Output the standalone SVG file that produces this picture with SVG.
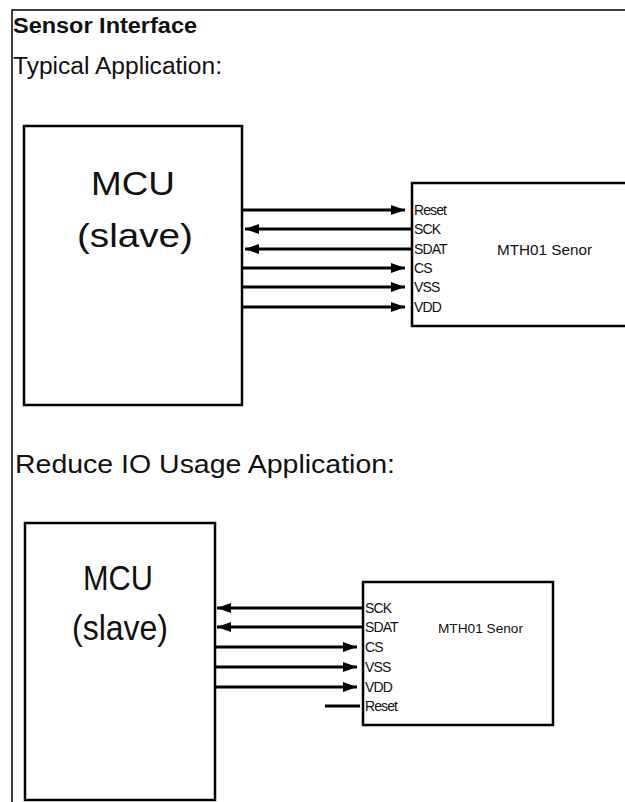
<svg xmlns="http://www.w3.org/2000/svg" width="625" height="802" viewBox="0 0 625 802">
<style>
  .box { fill: #fff; stroke: #000; stroke-width: 2.5; }
  .wire { stroke: #000; stroke-width: 3; fill: none; }
  .frame { stroke: #000; stroke-width: 1.5; fill: none; }
  .t { font-family: "Liberation Sans", Arial, sans-serif; fill: #111; }
  .pin { font-family: "Liberation Sans", Arial, sans-serif; font-size: 14px; letter-spacing: -0.9px; fill: #111; }
  .mcu { font-family: "Liberation Sans", Arial, sans-serif; text-anchor: middle; fill: #111; }
</style>
<defs>
  <marker id="ah" markerUnits="userSpaceOnUse" markerWidth="15" markerHeight="11" refX="14" refY="5" orient="auto">
    <path d="M0,0 L14,5 L0,10 z" fill="#000"/>
  </marker>
</defs>
<rect x="0" y="0" width="625" height="802" fill="#fff"/>
<path class="frame" d="M12,802 L12,10 L625,10"/>

<text class="t" x="13" y="33" font-size="22" font-weight="bold" textLength="184" lengthAdjust="spacingAndGlyphs">Sensor Interface</text>
<text class="t" x="13" y="74" font-size="23.5" textLength="209" lengthAdjust="spacingAndGlyphs">Typical Application:</text>
<text class="t" x="15" y="473" font-size="25" textLength="380" lengthAdjust="spacingAndGlyphs">Reduce IO Usage Application:</text>

<g id="mcu1">
  <rect class="box" x="24" y="126" width="218" height="279"/>
  <text class="mcu" x="133" y="195" font-size="33" textLength="84" lengthAdjust="spacingAndGlyphs">MCU</text>
  <text class="mcu" x="135" y="247" font-size="33" textLength="116" lengthAdjust="spacingAndGlyphs">(slave)</text>
</g>

<g id="sensor1">
  <rect class="box" x="412" y="183" width="240" height="143"/>
  <text class="pin" x="414" y="215">Reset</text>
  <text class="pin" x="414" y="234">SCK</text>
  <text class="pin" x="414" y="254">SDAT</text>
  <text class="pin" x="414" y="273">CS</text>
  <text class="pin" x="414" y="292">VSS</text>
  <text class="pin" x="414" y="312">VDD</text>
  <text class="t" x="497" y="255" font-size="14" textLength="95" lengthAdjust="spacingAndGlyphs">MTH01 Senor</text>
</g>

<g id="mcu2">
  <rect class="box" x="25" y="523" width="190" height="277"/>
  <text class="mcu" x="118" y="590" font-size="35" textLength="70" lengthAdjust="spacingAndGlyphs">MCU</text>
  <text class="mcu" x="120" y="640" font-size="35" textLength="96" lengthAdjust="spacingAndGlyphs">(slave)</text>
</g>

<g id="sensor2">
  <rect class="box" x="363" y="582" width="190" height="143"/>
  <text class="pin" x="365" y="613">SCK</text>
  <text class="pin" x="365" y="632">SDAT</text>
  <text class="pin" x="365" y="652">CS</text>
  <text class="pin" x="365" y="672">VSS</text>
  <text class="pin" x="365" y="692">VDD</text>
  <text class="pin" x="365" y="711">Reset</text>
  <text class="t" x="438" y="633" font-size="13" textLength="85" lengthAdjust="spacingAndGlyphs">MTH01 Senor</text>
</g>

<g id="connectors">
  <line class="wire" x1="242" y1="210" x2="405" y2="210" marker-end="url(#ah)"/>
  <line class="wire" x1="412" y1="229" x2="245" y2="229" marker-end="url(#ah)"/>
  <line class="wire" x1="412" y1="249" x2="245" y2="249" marker-end="url(#ah)"/>
  <line class="wire" x1="242" y1="268" x2="405" y2="268" marker-end="url(#ah)"/>
  <line class="wire" x1="242" y1="287" x2="405" y2="287" marker-end="url(#ah)"/>
  <line class="wire" x1="242" y1="307" x2="405" y2="307" marker-end="url(#ah)"/>

  <line class="wire" x1="363" y1="608" x2="217" y2="608" marker-end="url(#ah)"/>
  <line class="wire" x1="363" y1="627" x2="217" y2="627" marker-end="url(#ah)"/>
  <line class="wire" x1="215" y1="647" x2="357" y2="647" marker-end="url(#ah)"/>
  <line class="wire" x1="215" y1="667" x2="357" y2="667" marker-end="url(#ah)"/>
  <line class="wire" x1="215" y1="687" x2="357" y2="687" marker-end="url(#ah)"/>
  <line class="wire" x1="325" y1="706" x2="360" y2="706"/>
</g>
</svg>
